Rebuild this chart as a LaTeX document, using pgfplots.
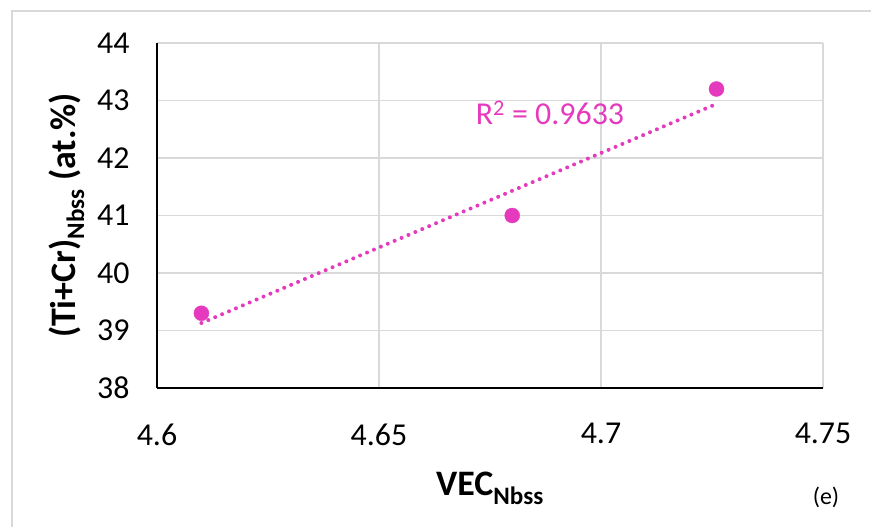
\documentclass[border=0pt]{standalone}
\usepackage{fontspec}
\setmainfont{Carlito}
\usepackage{pgfplots}
\pgfplotsset{compat=1.18}

\definecolor{pinkpt}{RGB}{230,58,190}
\definecolor{gridgray}{RGB}{217,217,217}

\begin{document}
\begin{tikzpicture}[x=1bp,y=1bp]
\path[use as bounding box] (0,0) rectangle (871,527);
\draw[gridgray,line width=2bp] (12,0) -- (12,516) -- (871,516);
\begin{axis}[
  at={(157bp,139bp)}, anchor=south west,
  scale only axis, width=666bp, height=345bp,
  xmin=4.6, xmax=4.75, ymin=38, ymax=44,
  xtick={4.6,4.65,4.7,4.75}, ytick={38,39,...,44},
  xticklabels={4.6,4.65,4.7,4.75},
  axis lines*=left, axis line style={black,line width=2bp},
  grid=major, grid style={gridgray,line width=1.5bp},
  major tick length=0pt,
  tick label style={font=\fontsize{32}{34}\selectfont},
  /pgf/number format/assume math mode=true,
  yticklabel style={xshift=-24bp},
  xticklabel style={yshift=-32bp},
  xlabel={\textbf{VEC\textsubscript{Nbss}}},
  ylabel={\textbf{(Ti+Cr)\textsubscript{Nbss} (at.\%)}},
  label style={font=\fontsize{36}{38}\selectfont},
  xlabel style={yshift=-20bp},
  ylabel style={yshift=6bp},
  clip=false,
]
\addplot[pinkpt, line width=4bp, line cap=round, dash pattern=on 0bp off 7.5bp]
  coordinates {(4.61,39.13) (4.726,42.94)};
\addplot[only marks, mark=*, mark size=7.5bp, pinkpt, mark options={draw=pinkpt,fill=pinkpt}]
  coordinates {(4.61,39.3) (4.68,41.0) (4.726,43.2)};
\node[pinkpt, font=\fontsize{32}{34}\selectfont] at (axis cs:4.6885,42.78) {R\textsuperscript{2} = 0.9633};
\end{axis}
\node[font=\fontsize{24}{26}\selectfont] at (826,30) {(e)};
\end{tikzpicture}
\end{document}
